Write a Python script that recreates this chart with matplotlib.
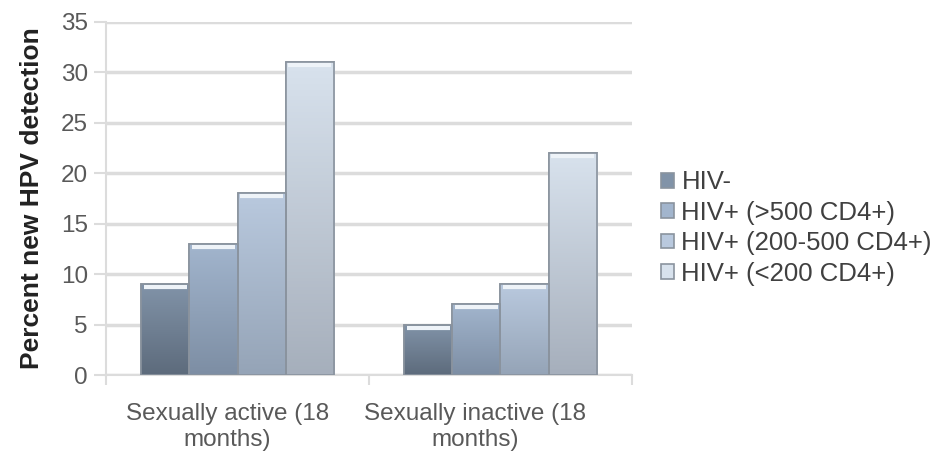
import matplotlib.pyplot as plt
import matplotlib.colors as mcolors
import matplotlib.transforms as mtransforms
import numpy as np

plt.rcParams['font.family'] = ['Liberation Sans', 'DejaVu Sans']

# data
groups = ['Sexually active (18\nmonths)', 'Sexually inactive (18\nmonths)']
series = ['HIV-', 'HIV+ (>500 CD4+)', 'HIV+ (200-500 CD4+)', 'HIV+ (<200 CD4+)']
hiv_neg = [9, 5]
hiv_500 = [13, 7]
hiv_200_500 = [18, 9]
hiv_200 = [31, 22]
values = [hiv_neg, hiv_500, hiv_200_500, hiv_200]

# (top colour, bottom colour) for each series
shades = [('#8193a8', '#5d6b7c'),
          ('#a2b5cd', '#7d8ea4'),
          ('#b9c9de', '#95a4b7'),
          ('#d8e2ed', '#a6afbc')]

fig = plt.figure(figsize=(9.44, 4.58), dpi=100)
ax = fig.add_axes([106/944, 1 - 375/458, 526/944, 353/458])

x = np.arange(len(groups))
w = 0.183
for i, (vals, name) in enumerate(zip(values, series)):
    top, bot = shades[i]
    bars = ax.bar(x + (i - 1.5) * w, vals, w, color=top, edgecolor='#8a939e',
                  linewidth=1.2, label=name, zorder=3)
    cmap = mcolors.LinearSegmentedColormap.from_list('g%d' % i, [bot, top])
    for b in bars:
        x0, y0 = b.get_x(), b.get_y()
        grad = np.linspace(0, 1, 100).reshape(-1, 1)
        im = ax.imshow(grad, cmap=cmap, origin='lower', aspect='auto',
                       extent=[x0, x0 + b.get_width(), y0, y0 + b.get_height()],
                       zorder=3.5)
        im.set_clip_path(b)
        # light cap on top of each bar
        ax.plot([x0 + 0.01, x0 + b.get_width() - 0.01], [y0 + b.get_height() - 0.3] * 2,
                color='#eef3f8', lw=3, zorder=4, solid_capstyle='butt')
        ax.bar(b.get_x() + b.get_width() / 2, b.get_height(), b.get_width(),
               fill=False, edgecolor='#8a939e', linewidth=1.2, zorder=4.5)

ax.set_xlim(-0.5, 1.5)
ax.set_ylim(0, 35)
ax.set_yticks(range(0, 36, 5))
ax.yaxis.grid(True, color='#dcdcdc', linewidth=2.5, zorder=0)
ax.set_axisbelow(True)
ax.tick_params(axis='y', colors='#595959', labelsize=17.5, length=9, width=1.5,
               color='#dcdcdc', pad=4)
ax.set_xticks(x)
ax.set_xticklabels(groups, fontsize=17.5, color='#595959', linespacing=1.25)
ax.tick_params(axis='x', length=0, pad=20)
# category labels sit a little left of the group centre in the original
for lbl, dx in zip(ax.get_xticklabels(), [-10, -25]):
    lbl.set_transform(lbl.get_transform() +
                      mtransforms.ScaledTranslation(dx / 100, 0, fig.dpi_scale_trans))
ax.set_xticks([-0.5, 0.5, 1.5], minor=True)
ax.tick_params(axis='x', which='minor', length=7, color='#dcdcdc', width=1.5)
for s in ['top', 'right']:
    ax.spines[s].set_visible(False)
for s in ['left', 'bottom']:
    ax.spines[s].set_color('#dcdcdc')
    ax.spines[s].set_linewidth(1.5)

ax.set_ylabel('Percent new HPV detection', fontsize=19, fontweight='bold',
              color='#222222', labelpad=12)

fig.legend(loc='center left', bbox_to_anchor=(648/944, 1 - 228/458), frameon=False,
           fontsize=18.5, handlelength=0.5, handleheight=0.5, handletextpad=0.3,
           labelspacing=0.25, labelcolor='#404040', borderpad=0)

fig.savefig('out.png', dpi=100)
